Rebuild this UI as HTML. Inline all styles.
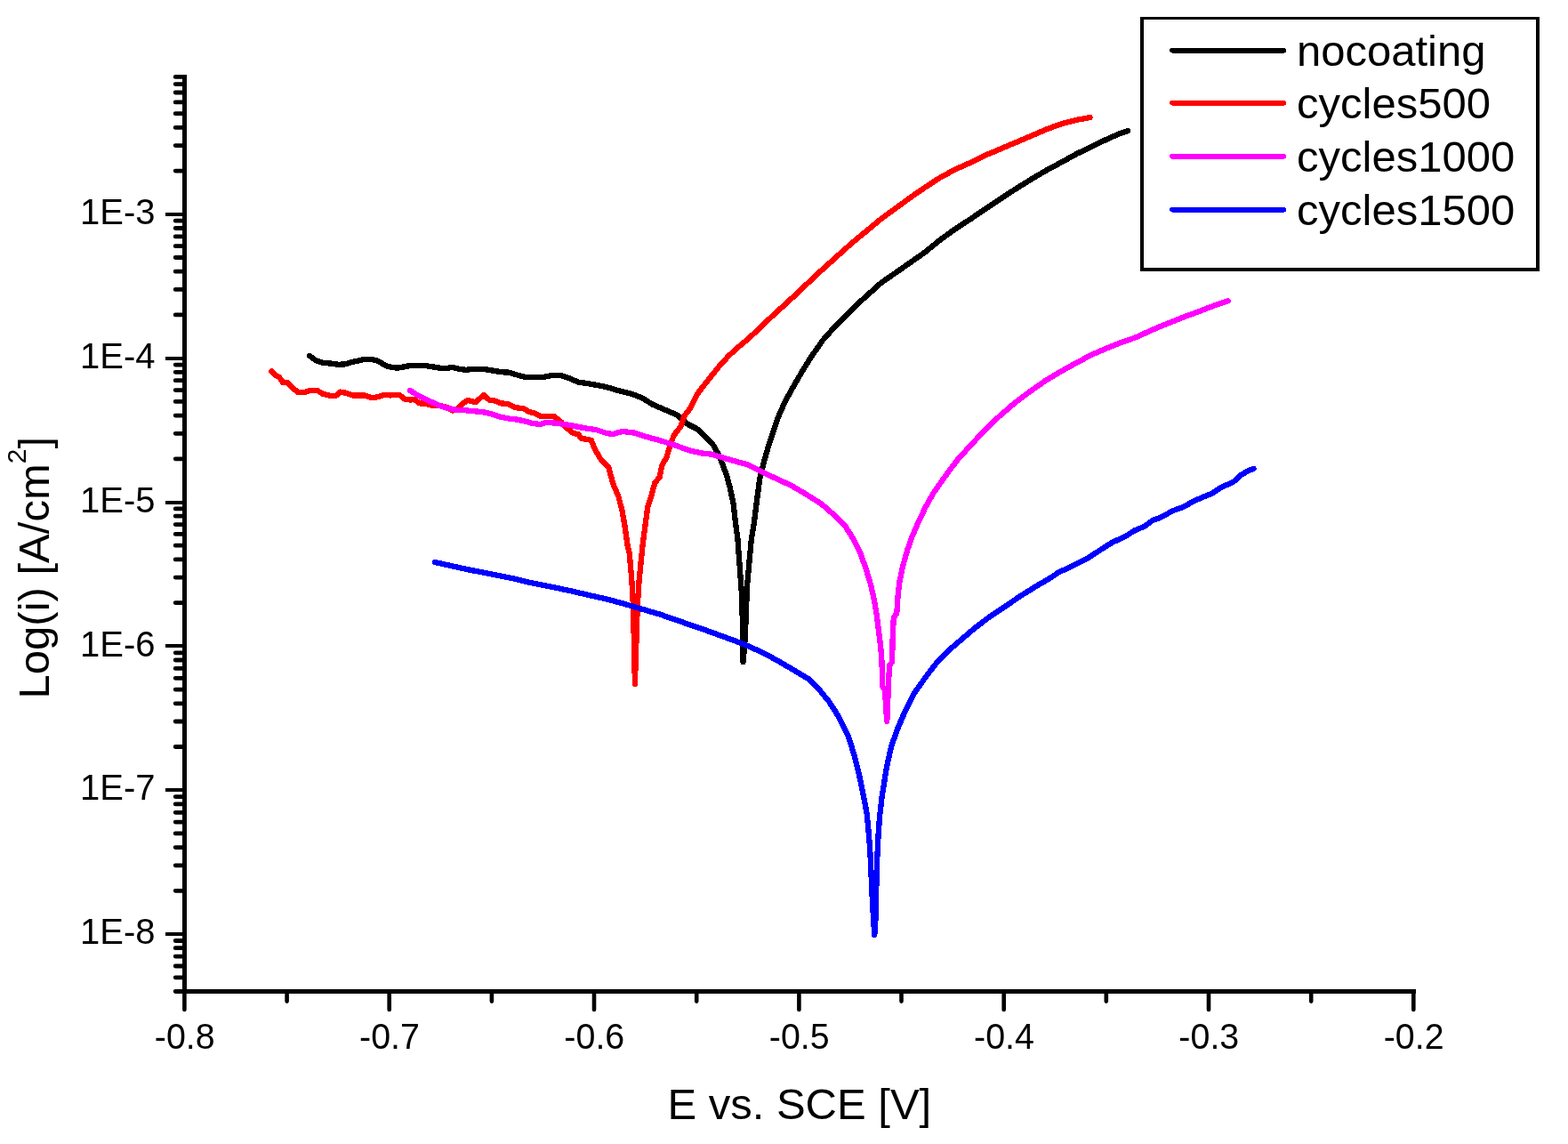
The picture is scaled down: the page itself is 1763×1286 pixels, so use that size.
<!DOCTYPE html>
<html lang="en">
<head>
<meta charset="utf-8">
<title>Polarization curves</title>
<style>
html,body{margin:0;padding:0;background:#fff;}
body{width:1763px;height:1286px;overflow:hidden;}
svg{display:block;}
text{font-family:"Liberation Sans",sans-serif;fill:#000;}
.tick{font-size:40px;}
.title{font-size:49px;}
.leg{font-size:49px;}
.curve{fill:none;stroke-width:6.3;stroke-linejoin:round;stroke-linecap:round;}
</style>
</head>
<body>
<svg width="1763" height="1286" viewBox="0 0 1763 1286">
<rect x="0" y="0" width="1763" height="1286" fill="#fff"/>
<g class="curve" shape-rendering="crispEdges">
<path id="nocoating" stroke="#000" d="M348.1,399.9 L355.0,405.1 L363.5,408.0 L372.1,408.5 L380.6,409.8 L389.2,409.3 L396.0,406.8 L402.9,405.6 L409.7,403.9 L418.3,403.9 L425.1,405.9 L433.7,411.0 L440.5,413.1 L447.3,413.6 L454.2,412.4 L461.0,411.0 L469.6,411.0 L478.1,411.0 L486.7,412.4 L495.2,413.8 L503.8,413.8 L508.9,412.8 L515.8,414.8 L524.3,415.8 L532.9,414.8 L543.1,414.8 L553.4,416.5 L563.6,418.2 L572.2,418.7 L580.7,421.3 L590.3,423.9 L610.8,423.9 L619.3,422.2 L631.3,422.2 L639.9,425.1 L650.1,429.5 L665.5,431.9 L682.6,435.3 L692.9,438.4 L710.0,442.7 L721.9,447.3 L733.9,454.7 L747.6,460.6 L761.3,466.6 L773.3,476.9 L783.5,482.0 L793.8,491.4 L802.3,500.8 L807.5,510.2 L812.6,522.2 L816.9,534.2 L821.1,549.6 L824.6,566.7 L827.3,590.0 L829.4,605.7 L831.3,631.3 L833.8,665.5 L835.2,708.3 L835.6,744.2 L837.8,716.8 L839.1,682.6 L840.2,657.0 L842.5,631.3 L844.9,605.7 L847.5,590.0 L850.6,566.0 L854.2,538.0 L858.9,519.0 L864.1,501.5 L869.5,485.4 L875.2,468.3 L882.7,451.5 L892.3,434.1 L902.2,417.0 L912.8,399.9 L921.4,388.0 L924.9,382.7 L936.8,369.3 L953.9,352.0 L965.9,340.2 L991.0,317.7 L1025.2,294.0 L1040.0,283.5 L1057.1,269.6 L1074.2,257.3 L1091.3,246.2 L1108.4,234.5 L1125.5,223.1 L1142.6,212.0 L1159.7,201.4 L1176.8,191.3 L1193.9,182.2 L1211.0,172.7 L1228.1,164.5 L1245.2,156.2 L1258.9,150.2 L1268.3,146.9"/>
<path id="cycles500" stroke="#f00" d="M305.4,417.5 L308.8,421.3 L313.9,423.9 L318.2,429.9 L323.4,430.2 L328.5,435.8 L335.3,441.0 L343.0,441.0 L349.0,438.8 L356.7,438.8 L362.7,442.7 L372.9,445.3 L378.9,444.4 L382.4,440.6 L389.2,441.8 L396.0,444.4 L401.2,444.4 L409.7,444.4 L418.3,447.3 L425.1,446.1 L432.0,443.9 L438.8,444.4 L449.1,443.9 L455.0,448.7 L461.0,449.5 L466.2,449.0 L471.3,453.3 L478.1,453.8 L485.0,455.5 L495.0,456.0 L503.0,458.0 L508.9,461.5 L515.8,458.9 L520.0,453.8 L526.0,450.0 L534.6,452.1 L539.7,447.8 L544.0,443.9 L550.0,449.5 L556.8,450.7 L563.6,453.5 L570.5,453.8 L579.0,458.1 L588.6,459.3 L595.4,463.2 L602.2,464.9 L608.2,468.3 L622.8,467.8 L631.3,474.7 L638.1,482.0 L645.0,487.2 L650.1,488.0 L653.5,492.8 L664.7,494.8 L668.9,505.1 L674.9,515.4 L684.3,525.6 L689.5,544.4 L695.4,558.1 L699.7,575.2 L702.3,590.0 L705.8,614.2 L707.7,622.1 L710.2,650.0 L711.9,680.0 L713.2,733.9 L713.9,769.0 L715.3,725.4 L716.7,682.6 L718.5,654.0 L720.8,630.0 L723.1,608.4 L725.6,590.0 L728.2,570.1 L732.7,556.4 L736.3,542.7 L741.5,536.7 L744.2,523.9 L749.5,513.7 L753.9,500.0 L757.5,489.7 L765.3,479.5 L769.5,467.5 L776.2,458.9 L783.6,443.5 L792.7,431.6 L800.9,421.3 L809.2,411.0 L819.4,399.9 L829.7,390.5 L841.7,380.5 L854.2,368.8 L868.4,355.2 L888.4,337.0 L922.6,304.8 L956.8,274.1 L991.0,245.8 L1025.2,220.9 L1040.0,210.7 L1057.1,199.6 L1074.2,190.4 L1091.3,182.8 L1108.4,174.4 L1125.5,167.2 L1142.6,159.9 L1159.7,152.6 L1176.8,145.3 L1193.9,139.1 L1211.0,134.7 L1225.6,132.1"/>
<path id="cycles1000" stroke="#f0f" d="M461.0,438.8 L469.6,444.4 L478.1,448.7 L486.7,452.6 L495.2,456.4 L503.8,458.9 L512.3,460.6 L520.9,461.0 L529.4,462.0 L538.0,462.7 L546.5,463.7 L555.1,466.1 L563.6,468.9 L572.2,470.6 L580.7,471.5 L590.3,473.5 L598.8,476.0 L607.4,476.9 L614.2,474.7 L627.9,476.0 L641.6,478.1 L657.0,481.2 L670.6,483.2 L682.6,487.2 L689.5,488.0 L699.7,484.9 L713.4,486.6 L725.4,490.6 L742.5,495.2 L759.6,500.8 L776.7,506.8 L788.7,509.4 L800.6,510.8 L819.4,516.4 L840.0,522.2 L853.6,528.8 L860.0,532.0 L873.7,538.5 L889.1,545.5 L904.5,554.5 L923.3,566.2 L937.0,578.1 L950.6,591.8 L959.2,605.5 L967.7,622.6 L973.7,639.7 L978.9,656.8 L982.8,673.9 L985.7,691.0 L987.9,708.1 L990.0,725.2 L991.3,740.0 L991.7,751.3 L992.2,771.8 L995.1,775.3 L996.0,794.1 L997.3,810.8 L998.5,782.1 L999.4,759.9 L1000.2,747.9 L1002.8,744.5 L1003.3,734.2 L1003.7,716.7 L1004.8,694.4 L1008.3,689.3 L1009.5,670.5 L1011.5,653.4 L1015.2,636.3 L1019.9,619.2 L1025.3,603.8 L1032.6,586.7 L1040.9,569.6 L1049.5,554.2 L1058.2,541.8 L1067.0,529.5 L1077.1,516.3 L1090.0,502.1 L1107.1,483.7 L1124.2,467.4 L1141.3,452.7 L1158.4,439.9 L1175.5,427.9 L1192.6,417.7 L1209.7,408.2 L1226.8,399.1 L1243.9,391.6 L1261.0,384.9 L1278.1,378.9 L1295.2,370.9 L1312.3,363.8 L1329.4,357.0 L1346.5,350.7 L1363.6,344.1 L1380.7,338.3"/>
<path id="cycles1500" stroke="#00f" d="M488.7,632.0 L508.4,636.3 L525.5,640.1 L542.6,643.5 L559.7,646.9 L576.8,650.3 L593.9,654.6 L611.0,657.8 L628.1,661.4 L645.2,665.0 L662.3,669.1 L679.4,672.8 L696.5,677.3 L713.6,682.3 L730.7,687.3 L742.6,690.8 L759.7,696.8 L776.8,702.7 L793.9,708.6 L811.0,714.8 L828.1,721.0 L845.2,728.0 L862.3,736.0 L879.4,745.6 L896.5,755.7 L910.2,763.9 L920.9,775.0 L932.3,788.9 L943.2,806.0 L954.1,828.3 L960.9,850.5 L966.0,871.0 L970.3,891.5 L974.6,914.2 L976.3,931.3 L978.0,951.8 L979.2,974.1 L980.2,999.7 L981.6,1025.4 L983.3,1051.0 L984.2,1040.0 L985.0,1016.8 L985.6,982.6 L986.4,962.1 L987.5,939.9 L989.0,918.5 L991.6,896.0 L996.6,864.2 L1001.8,840.2 L1009.0,819.7 L1017.8,799.2 L1028.4,778.7 L1040.4,761.6 L1051.5,747.0 L1065.2,732.5 L1075.5,723.5 L1096.0,706.1 L1113.1,693.0 L1130.0,681.9 L1147.2,670.1 L1164.2,659.5 L1181.3,649.5 L1189.9,643.7 L1207.0,635.5 L1224.1,626.8 L1241.2,615.6 L1249.7,610.3 L1266.8,602.1 L1275.4,596.5 L1287.3,591.5 L1295.9,585.0 L1306.2,581.2 L1318.1,574.4 L1331.8,569.3 L1340.4,564.1 L1352.3,559.0 L1362.6,554.7 L1372.9,547.9 L1386.5,541.9 L1395.1,534.2 L1403.6,529.1 L1409.6,527.0"/>
</g>
<g stroke="#000" fill="none" shape-rendering="crispEdges">
<line x1="207.5" y1="84.4" x2="207.5" y2="1117.0" stroke-width="5"/>
<line x1="205.0" y1="1114.5" x2="1591.8" y2="1114.5" stroke-width="5"/>
<path d="M186,1050.0H207.5 M186,888.2H207.5 M186,726.3H207.5 M186,564.5H207.5 M186,402.6H207.5 M186,240.8H207.5" stroke-width="4"/>
<path d="M197.2,1114.5H207.5 M197.2,1098.8H207.5 M197.2,1086.0H207.5 M197.2,1075.1H207.5 M197.2,1065.7H207.5 M197.2,1057.5H207.5 M197.2,1001.3H207.5 M197.2,972.8H207.5 M197.2,952.6H207.5 M197.2,936.9H207.5 M197.2,924.1H207.5 M197.2,913.3H207.5 M197.2,903.9H207.5 M197.2,895.6H207.5 M197.2,839.5H207.5 M197.2,811.0H207.5 M197.2,790.8H207.5 M197.2,775.1H207.5 M197.2,762.3H207.5 M197.2,751.4H207.5 M197.2,742.0H207.5 M197.2,733.8H207.5 M197.2,677.6H207.5 M197.2,649.1H207.5 M197.2,628.9H207.5 M197.2,613.2H207.5 M197.2,600.4H207.5 M197.2,589.6H207.5 M197.2,580.2H207.5 M197.2,571.9H207.5 M197.2,515.8H207.5 M197.2,487.3H207.5 M197.2,467.1H207.5 M197.2,451.4H207.5 M197.2,438.6H207.5 M197.2,427.7H207.5 M197.2,418.3H207.5 M197.2,410.1H207.5 M197.2,353.9H207.5 M197.2,325.4H207.5 M197.2,305.2H207.5 M197.2,289.5H207.5 M197.2,276.7H207.5 M197.2,265.9H207.5 M197.2,256.5H207.5 M197.2,248.2H207.5 M197.2,192.1H207.5 M197.2,163.6H207.5 M197.2,143.4H207.5 M197.2,127.7H207.5 M197.2,114.9H207.5 M197.2,104.0H207.5 M197.2,94.6H207.5 M197.2,86.4H207.5" stroke-width="4.8" stroke-linecap="round" shape-rendering="auto"/>
<path d="M207.4,1114.5V1135.0 M322.6,1114.5V1125.6 M437.7,1114.5V1135.0 M552.9,1114.5V1125.6 M668.0,1114.5V1135.0 M783.2,1114.5V1125.6 M898.4,1114.5V1135.0 M1013.5,1114.5V1125.6 M1128.7,1114.5V1135.0 M1243.8,1114.5V1125.6 M1359.0,1114.5V1135.0 M1474.2,1114.5V1125.6 M1589.3,1114.5V1135.0" stroke-width="4.6" stroke-linecap="round" shape-rendering="auto"/>
</g>
<g class="tick" text-anchor="end">
<text transform="translate(174.5,252.0) scale(1,1.035)">1E-3</text>
<text transform="translate(174.5,413.8) scale(1,1.035)">1E-4</text>
<text transform="translate(174.5,575.7) scale(1,1.035)">1E-5</text>
<text transform="translate(174.5,737.5) scale(1,1.035)">1E-6</text>
<text transform="translate(174.5,899.4) scale(1,1.035)">1E-7</text>
<text transform="translate(174.5,1061.2) scale(1,1.035)">1E-8</text>
</g>
<g class="tick" text-anchor="middle">
<text transform="translate(207.7,1179) scale(0.985,1.035)">-0.8</text>
<text transform="translate(438.0,1179) scale(0.985,1.035)">-0.7</text>
<text transform="translate(668.3,1179) scale(0.985,1.035)">-0.6</text>
<text transform="translate(898.7,1179) scale(0.985,1.035)">-0.5</text>
<text transform="translate(1129.0,1179) scale(0.985,1.035)">-0.4</text>
<text transform="translate(1359.3,1179) scale(0.985,1.035)">-0.3</text>
<text transform="translate(1589.6,1179) scale(0.985,1.035)">-0.2</text>
</g>
<text class="title" x="898.8" y="1257.8" text-anchor="middle">E vs. SCE [V]</text>
<text class="title" transform="translate(55,785.4) rotate(-90)">Log(i) [A/cm<tspan font-size="30" dy="-26">2</tspan><tspan dy="26">]</tspan></text>
<path d="M1282,19H1731V305H1282Z M1286,22V301H1727V22Z" fill="#000" fill-rule="evenodd" shape-rendering="crispEdges"/>
<line x1="1318" y1="56.7" x2="1443.5" y2="56.7" stroke="#000" stroke-width="5.6" stroke-linecap="round" shape-rendering="crispEdges"/>
<text class="leg" x="1458" y="73.8">nocoating</text>
<line x1="1318" y1="115.7" x2="1443.5" y2="115.7" stroke="#f00" stroke-width="5.6" stroke-linecap="round" shape-rendering="crispEdges"/>
<text class="leg" x="1458" y="133.0">cycles500</text>
<line x1="1318" y1="175.8" x2="1443.5" y2="175.8" stroke="#f0f" stroke-width="5.6" stroke-linecap="round" shape-rendering="crispEdges"/>
<text class="leg" x="1458" y="192.5">cycles1000</text>
<line x1="1318" y1="235.7" x2="1443.5" y2="235.7" stroke="#00f" stroke-width="5.6" stroke-linecap="round" shape-rendering="crispEdges"/>
<text class="leg" x="1458" y="253.0">cycles1500</text>
</svg>
</body>
</html>
